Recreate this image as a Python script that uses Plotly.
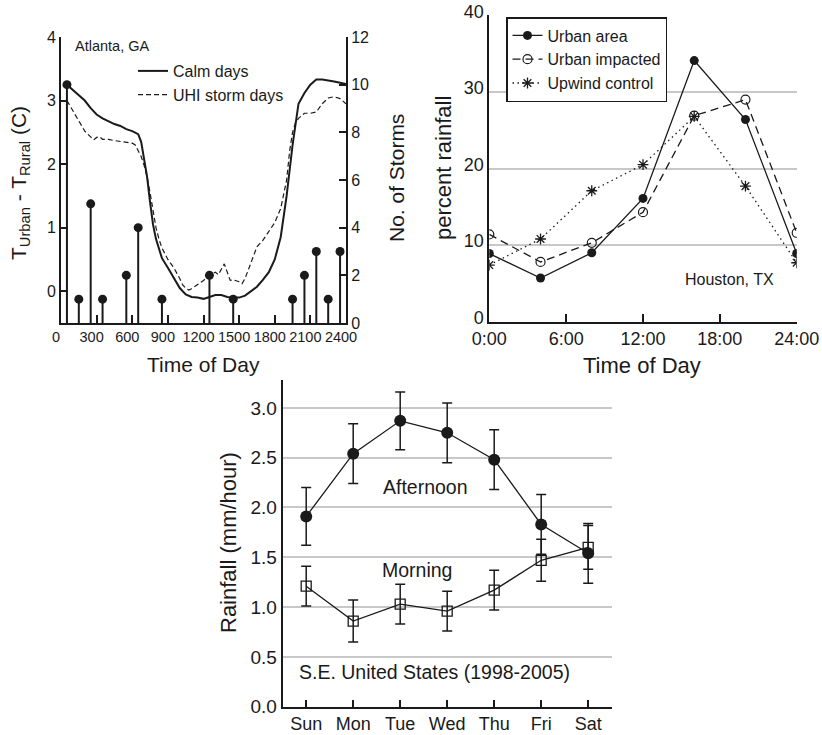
import plotly.graph_objects as go

# ---------------- data ----------------
# Panel A: Atlanta, GA  (urban - rural temperature, storms by time of day)
calm_time = [50, 100, 150, 200, 250, 300, 350, 400, 450, 500, 550, 600, 650, 675, 700, 725, 750, 775,
             800, 850, 900, 950, 1000, 1050, 1100, 1150, 1200, 1250, 1300, 1350, 1400, 1450, 1500,
             1550, 1600, 1650, 1700, 1750, 1800, 1850, 1900, 1950, 2000, 2050, 2100, 2150, 2200,
             2250, 2300, 2350, 2400]
calm_dT = [3.25, 3.17, 3.08, 3.0, 2.88, 2.78, 2.72, 2.67, 2.63, 2.6, 2.55, 2.52, 2.47, 2.35, 2.1, 1.8,
           1.4, 1.05, 0.82, 0.52, 0.37, 0.2, 0.05, -0.05, -0.09, -0.1, -0.12, -0.09, -0.06, -0.06,
           -0.09, -0.1, -0.1, -0.07, 0.0, 0.07, 0.18, 0.3, 0.5, 0.85, 1.5, 2.3, 2.95, 3.12, 3.25,
           3.33, 3.33, 3.32, 3.3, 3.28, 3.26]
uhi_time = [50, 100, 150, 200, 250, 275, 300, 325, 350, 400, 450, 500, 550, 600, 625, 650, 675, 700,
            725, 750, 775, 800, 825, 850, 900, 950, 1000, 1025, 1050, 1075, 1100, 1125, 1150, 1200,
            1250, 1300, 1325, 1350, 1375, 1400, 1425, 1450, 1500, 1525, 1550, 1600, 1650, 1700,
            1750, 1800, 1850, 1900, 1925, 1950, 1975, 2000, 2050, 2100, 2150, 2200, 2250, 2300,
            2350, 2400]
uhi_dT = [3.0, 2.85, 2.68, 2.52, 2.42, 2.38, 2.42, 2.43, 2.39, 2.39, 2.37, 2.36, 2.35, 2.33, 2.3, 2.22,
          2.12, 1.98, 1.8, 1.55, 1.25, 1.0, 0.82, 0.68, 0.5, 0.37, 0.2, 0.1, 0.05, 0.02, 0.04, 0.07,
          0.1, 0.17, 0.25, 0.3, 0.26, 0.35, 0.43, 0.3, 0.17, 0.18, 0.15, 0.12, 0.2, 0.45, 0.7, 0.8,
          0.95, 1.08, 1.3, 1.75, 2.2, 2.5, 2.65, 2.72, 2.8, 2.8, 2.82, 2.95, 3.04, 3.06, 3.03, 2.95]
storm_time = [50, 150, 250, 350, 550, 650, 850, 1250, 1450, 1950, 2050, 2150, 2250, 2350]
storm_count = [10, 1, 5, 1, 2, 4, 1, 2, 1, 1, 2, 3, 1, 3]
atl_ticks = [0, 300, 600, 900, 1200, 1500, 1800, 2100, 2400]
atl_ticktext = ["0", "300", "600", "900", "1200", "1500", "1800", "2100", "2400"]

# Panel B: Houston, TX (percent rainfall by time of day)
hou_hours = [0, 4, 8, 12, 16, 20, 24]
urban_area = [8.9, 5.7, 9.0, 16.1, 34.1, 26.4, 8.9]
urban_impacted = [11.4, 7.8, 10.3, 14.3, 26.9, 29.0, 11.6]
upwind_control = [7.4, 10.8, 17.1, 20.5, 26.8, 17.7, 7.7]
hou_ticks = [0, 6, 12, 18, 24]
hou_ticktext = ["0:00", "6:00", "12:00", "18:00", "24:00"]

# Panel C: S.E. United States rainfall by weekday
days = ["Sun", "Mon", "Tue", "Wed", "Thu", "Fri", "Sat"]
afternoon = [1.91, 2.54, 2.87, 2.75, 2.48, 1.83, 1.54]
afternoon_err = [0.29, 0.30, 0.29, 0.30, 0.30, 0.30, 0.30]
morning = [1.21, 0.86, 1.03, 0.96, 1.17, 1.47, 1.60]
morning_err = [0.20, 0.21, 0.20, 0.20, 0.20, 0.21, 0.22]

# ---------------- layout helpers ----------------
W, H = 822, 735
def fx(p):
    return p / W
def fy(p):
    return 1 - p / H

FONT = "Liberation Sans, Arial, Helvetica, sans-serif"
INK = "#1a1a1a"
GRID = "#c8c8c8"

fig = go.Figure()

# Panel A traces
fig.add_trace(go.Scatter(x=calm_time, y=calm_dT, mode="lines", name="Calm days",
                         line=dict(color=INK, width=2), xaxis="x", yaxis="y", legend="legend2"))
fig.add_trace(go.Scatter(x=uhi_time, y=uhi_dT, mode="lines", name="UHI storm days",
                         line=dict(color=INK, width=1.2, dash="5px,3px"), xaxis="x", yaxis="y",
                         legend="legend2"))
fig.add_trace(go.Scatter(x=storm_time, y=storm_count, mode="markers", showlegend=False,
                         marker=dict(color=INK, size=9),
                         error_y=dict(type="data", symmetric=False, array=[0] * len(storm_count),
                                      arrayminus=storm_count, width=0, thickness=2, color=INK),
                         xaxis="x", yaxis="y2"))

# Panel B traces
fig.add_trace(go.Scatter(x=hou_hours, y=urban_area, mode="lines+markers", name="Urban area",
                         line=dict(color=INK, width=1.3),
                         marker=dict(symbol="circle", size=9, color=INK),
                         xaxis="x3", yaxis="y3"))
fig.add_trace(go.Scatter(x=hou_hours, y=urban_impacted, mode="lines+markers", name="Urban impacted",
                         line=dict(color=INK, width=1.3, dash="8px,5px"),
                         marker=dict(symbol="circle-open", size=9, color=INK, line=dict(width=1.2)),
                         xaxis="x3", yaxis="y3"))
fig.add_trace(go.Scatter(x=hou_hours, y=upwind_control, mode="lines+markers", name="Upwind control",
                         line=dict(color=INK, width=1.3, dash="1.5px,3.5px"),
                         marker=dict(symbol="asterisk-open", size=9, color=INK, line=dict(width=1.3, color=INK)),
                         xaxis="x3", yaxis="y3"))

# Panel C traces
fig.add_trace(go.Scatter(x=days, y=afternoon, mode="lines+markers", showlegend=False,
                         line=dict(color=INK, width=1.3),
                         marker=dict(symbol="circle", size=12, color=INK),
                         error_y=dict(type="data", array=afternoon_err, width=5, thickness=1.5, color=INK),
                         xaxis="x4", yaxis="y4"))
fig.add_trace(go.Scatter(x=days, y=morning, mode="lines+markers", showlegend=False,
                         line=dict(color=INK, width=1.3),
                         marker=dict(symbol="square-open", size=10, color=INK, line=dict(width=1.3)),
                         error_y=dict(type="data", array=morning_err, width=5, thickness=1.5, color=INK),
                         xaxis="x4", yaxis="y4"))

axis_common = dict(showline=True, linecolor=INK, linewidth=2, zeroline=False,
                   ticks="inside", tickcolor=INK, tickwidth=1.5, automargin=False,
                   tickfont=dict(family=FONT, color=INK))

fig.update_layout(
    width=W, height=H,
    margin=dict(l=0, r=0, t=0, b=0),
    paper_bgcolor="white", plot_bgcolor="white",
    font=dict(family=FONT, color=INK),
    xaxis=dict(axis_common, domain=[fx(61), fx(346)], range=[0, 2400], anchor="y",
               tickvals=atl_ticks, ticktext=atl_ticktext, ticklen=8, showgrid=False,
               ticklabelshift=-5,
               tickfont=dict(family=FONT, color=INK, size=14.5)),
    yaxis=dict(axis_common, domain=[fy(323), fy(37)], range=[-0.5, 4], anchor="x",
               tickvals=[0, 1, 2, 3, 4], ticklen=7, showgrid=False,
               tickfont=dict(family=FONT, color=INK, size=16)),
    yaxis2=dict(axis_common, overlaying="y", side="right", anchor="x", range=[0, 12],
                tickvals=[0, 2, 4, 6, 8, 10, 12], ticklen=7, showgrid=False,
                tickfont=dict(family=FONT, color=INK, size=16)),
    xaxis3=dict(axis_common, domain=[fx(489.3), fx(796.7)], range=[0, 24], anchor="y3",
                tickvals=hou_ticks, ticktext=hou_ticktext, ticklen=8, showgrid=False,
                tickfont=dict(family=FONT, color=INK, size=18)),
    yaxis3=dict(axis_common, domain=[fy(321.7), fy(15)], range=[0, 40.05], anchor="x3",
                tickvals=[0, 10, 20, 30, 40], ticks="", showgrid=True, gridcolor=GRID, gridwidth=1.5,
                ticklabelshift=-4,
                tickfont=dict(family=FONT, color=INK, size=18)),
    xaxis4=dict(axis_common, domain=[fx(282.7), fx(611.7)], type="category", range=[-0.5, 6.5],
                anchor="y4", ticklen=7, showgrid=False,
                tickfont=dict(family=FONT, color=INK, size=18)),
    yaxis4=dict(axis_common, domain=[fy(706.7), fy(380)], range=[0, 3.28], anchor="x4",
                tickvals=[0, 0.5, 1.0, 1.5, 2.0, 2.5, 3.0], tickformat=".1f", ticks="",
                showgrid=True, gridcolor=GRID, gridwidth=1.5,
                tickfont=dict(family=FONT, color=INK, size=19)),
    legend=dict(x=fx(506), y=fy(17), xanchor="left", yanchor="top", bgcolor="white",
                bordercolor=INK, borderwidth=1.5, font=dict(family=FONT, size=16, color=INK),
                itemwidth=30, tracegroupgap=0),
    legend2=dict(x=fx(133), y=fy(54), xanchor="left", yanchor="top", bgcolor="rgba(0,0,0,0)",
                 borderwidth=0, font=dict(family=FONT, size=16, color=INK), itemwidth=30,
                 tracegroupgap=0),
)

def note(text, x, y, size, angle=0, xanchor="center"):
    fig.add_annotation(text=text, x=fx(x), y=fy(y), xref="paper", yref="paper",
                       showarrow=False, textangle=angle, xanchor=xanchor, yanchor="middle",
                       font=dict(family=FONT, size=size, color=INK))

note("T<sub>Urban</sub> - T<sub>Rural</sub> (C)", 20, 183, 21, -90)
note("No. of Storms", 397, 178, 21, -90)
note("Time of Day", 203, 364, 21)
note("Atlanta, GA", 73, 46, 14.5, xanchor="left")
note("percent rainfall", 444, 168, 22, -90)
note("Time of Day", 642, 365, 22)
note("Houston, TX", 729, 279, 16)
note("Rainfall (mm/hour)", 228, 543, 22, -90)
note("Afternoon", 425.5, 487, 19.5)
note("Morning", 417, 570, 19.5)
note("S.E. United States (1998-2005)", 434, 672, 19.5)

fig.write_html("out.html")
